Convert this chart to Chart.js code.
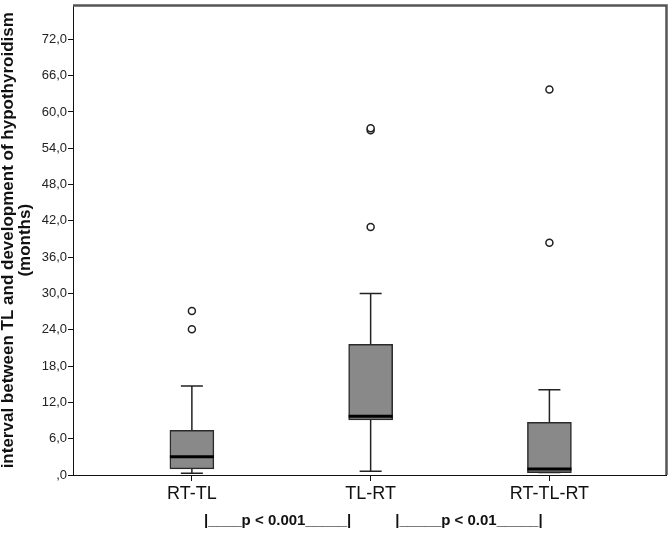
<!DOCTYPE html>
<html>
<head>
<meta charset="utf-8">
<script src="https://cdn.jsdelivr.net/npm/chart.js@4/dist/chart.umd.min.js"></script>
<style>
  body { margin: 0; background: #fff; }
  #wrap { width: 672px; height: 538px; }
</style>
</head>
<body>
<div id="wrap"><canvas id="boxChart" width="672" height="538"></canvas></div>
<script>
// box plot values (months)
const groups = ['RT-TL', 'TL-RT', 'RT-TL-RT'];
const whiskerLow = [0.3, 0.6, 0.4];
const q1 = [1.0, 9.1, 0.4];
const median = [3.0, 9.7, 1.0];
const q3 = [7.4, 21.6, 8.7];
const whiskerHigh = [14.7, 30.0, 14.1];
const outliers = [[27.1, 24.1], [57.0, 57.3, 41.0], [63.7, 38.4]];
const yTicks = [0, 6, 12, 18, 24, 30, 36, 42, 48, 54, 60, 66, 72];
const pLabels = ['|____p < 0.001_____|', '|_____p < 0.01_____|'];
const pLabelPos = [1.48, 2.55];

const font = "'Liberation Sans', Arial, sans-serif";

const boxData = groups.map((g, i) => ({ x: i + 1, y: [q1[i], q3[i]] }));
const outlierData = [];
outliers.forEach((list, i) => list.forEach(v => outlierData.push({ x: i + 1, y: v })));

const boxPlugin = {
    id: 'boxExtras',
    beforeDatasetsDraw(chart) {
        const ctx = chart.ctx;
        const xs = chart.scales.x, ys = chart.scales.y;
        ctx.save();
        ctx.strokeStyle = '#222';
        ctx.lineWidth = 1.5;
        groups.forEach((g, i) => {
            const cx = xs.getPixelForValue(i + 1);
            const capHalf = 11;
            ctx.beginPath();
            ctx.moveTo(cx, ys.getPixelForValue(q3[i]));
            ctx.lineTo(cx, ys.getPixelForValue(whiskerHigh[i]));
            ctx.moveTo(cx - capHalf, ys.getPixelForValue(whiskerHigh[i]));
            ctx.lineTo(cx + capHalf, ys.getPixelForValue(whiskerHigh[i]));
            ctx.moveTo(cx, ys.getPixelForValue(q1[i]));
            ctx.lineTo(cx, ys.getPixelForValue(whiskerLow[i]));
            ctx.moveTo(cx - capHalf, ys.getPixelForValue(whiskerLow[i]));
            ctx.lineTo(cx + capHalf, ys.getPixelForValue(whiskerLow[i]));
            ctx.stroke();
        });
        ctx.restore();
    },
    afterDatasetsDraw(chart) {
        const ctx = chart.ctx;
        const xs = chart.scales.x, ys = chart.scales.y;
        const area = chart.chartArea;
        ctx.save();
        // medians
        ctx.strokeStyle = '#000';
        ctx.lineWidth = 3;
        groups.forEach((g, i) => {
            const cx = xs.getPixelForValue(i + 1);
            const my = ys.getPixelForValue(median[i]);
            ctx.beginPath();
            ctx.moveTo(cx - 22, my);
            ctx.lineTo(cx + 22, my);
            ctx.stroke();
        });
        // frame top / right
        ctx.strokeStyle = '#555';
        ctx.lineWidth = 2.5;
        ctx.beginPath();
        ctx.moveTo(area.left, area.top);
        ctx.lineTo(area.right, area.top);
        ctx.lineTo(area.right, area.bottom);
        ctx.stroke();
        ctx.restore();
    },
    afterDraw(chart) {
        const ctx = chart.ctx;
        const xs = chart.scales.x;
        ctx.save();
        ctx.font = 'bold 15px ' + font;
        ctx.fillStyle = '#111';
        ctx.textAlign = 'center';
        ctx.textBaseline = 'middle';
        pLabels.forEach((t, i) => {
            ctx.fillText(t, xs.getPixelForValue(pLabelPos[i]), 521);
        });
        ctx.restore();
    }
};

new Chart(document.getElementById('boxChart').getContext('2d'), {
    type: 'bar',
    data: {
        datasets: [
            {
                type: 'bar',
                data: boxData,
                backgroundColor: '#898989',
                borderColor: '#2a2a2a',
                borderWidth: 1.5,
                borderSkipped: false,
                barThickness: 44
            },
            {
                type: 'scatter',
                data: outlierData,
                pointStyle: 'circle',
                pointRadius: 3.5,
                pointBackgroundColor: '#fff',
                pointBorderColor: '#222',
                pointBorderWidth: 1.5
            }
        ]
    },
    plugins: [boxPlugin],
    options: {
        responsive: false,
        animation: false,
        layout: { padding: { left: 0, top: 3, right: 5, bottom: 0 } },
        plugins: {
            legend: { display: false },
            tooltip: { enabled: false },
            title: { display: false }
        },
        scales: {
            x: {
                type: 'linear',
                min: 0.335,
                max: 3.655,
                offset: false,
                afterBuildTicks: s => { s.ticks = groups.map((g, i) => ({ value: i + 1 })); },
                afterFit: s => { s.height = 63; s.paddingLeft = 0; s.paddingRight = 0; },
                ticks: {
                    callback: (v, i) => groups[i],
                    font: { family: font, size: 18 },
                    color: '#111',
                    padding: 2,
                    autoSkip: false,
                    maxRotation: 0
                },
                grid: { display: true, drawOnChartArea: false, drawTicks: true, tickLength: 6, color: '#111', offset: false },
                border: { display: true, color: '#111', width: 1 }
            },
            y: {
                type: 'linear',
                min: 0,
                max: 77.6,
                afterBuildTicks: s => { s.ticks = yTicks.map(v => ({ value: v })); },
                afterFit: s => { s.width = 73; s.paddingTop = 0; s.paddingBottom = 0; },
                ticks: {
                    callback: v => v === 0 ? ',0' : v.toFixed(1).replace('.', ','),
                    font: { family: font, size: 13 },
                    color: '#222',
                    padding: 1
                },
                grid: { display: true, drawOnChartArea: false, drawTicks: true, tickLength: 5, color: '#111' },
                border: { display: true, color: '#111', width: 1 },
                title: {
                    display: true,
                    text: ['interval between TL and development of hypothyroidism', '(months)'],
                    font: { family: font, size: 17, weight: 'bold', lineHeight: 1.0 },
                    color: '#111',
                    padding: { top: 0, bottom: 2 }
                }
            }
        }
    }
});
</script>
</body>
</html>
